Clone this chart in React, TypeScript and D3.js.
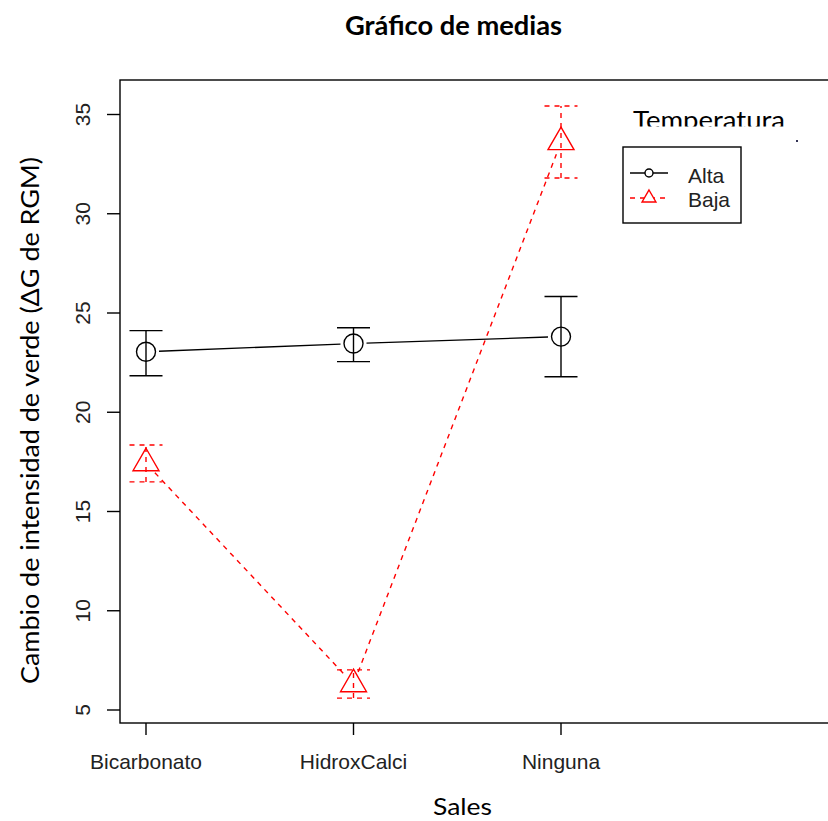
import React from "react";
import * as d3 from "d3";

const categories = ["Bicarbonato", "HidroxCalci", "Ninguna"];
const altaMean = [23.05, 23.46, 23.81];
const altaLow = [21.84, 22.55, 21.79];
const altaHigh = [24.11, 24.26, 25.83];
const bajaMean = [17.43, 6.3, 33.61];
const bajaLow = [16.49, 5.6, 31.8];
const bajaHigh = [18.35, 7.02, 35.43];
const yTicks = [5, 10, 15, 20, 25, 30, 35];
const seriesNames = ["Alta", "Baja"];

const W = 828;
const H = 821;
const box = { left: 120, top: 80, right: 832, bottom: 723 };
const x = d3.scaleLinear().domain([1, 3]).range([146, 561]);
const y = d3.scaleLinear().domain([5, 35]).range([710, 114.5]);

const RFONT = "'Liberation Sans', Arial, sans-serif";
const CFONT = "Lato, 'Open Sans', sans-serif";

function triPath(r: number) {
  const xc = r * 0.866;
  return `M0,${-r}L${xc},${r / 2}L${-xc},${r / 2}Z`;
}

function gappedSegments(pts: [number, number][], gap: number) {
  const segs: [number, number, number, number][] = [];
  for (let i = 0; i < pts.length - 1; i++) {
    const [x0, y0] = pts[i];
    const [x1, y1] = pts[i + 1];
    const d = Math.hypot(x1 - x0, y1 - y0);
    const ux = (x1 - x0) / d;
    const uy = (y1 - y0) / d;
    segs.push([x0 + ux * gap, y0 + uy * gap, x1 - ux * gap, y1 - uy * gap]);
  }
  return segs;
}

function Series({ mean, low, high, color, dash, marker }: any) {
  const pts: [number, number][] = mean.map((m: number, i: number) => [x(i + 1), y(m)]);
  const segs = gappedSegments(pts, 13);
  const cap = 16.5;
  return (
    <g stroke={color} fill="none" strokeWidth={1.4} strokeDasharray={dash}>
      {segs.map((s, i) => (
        <line key={"s" + i} x1={s[0]} y1={s[1]} x2={s[2]} y2={s[3]} />
      ))}
      {mean.map((m: number, i: number) => {
        const cx = x(i + 1);
        return (
          <g key={"e" + i}>
            <line x1={cx} x2={cx} y1={y(low[i])} y2={y(high[i])} />
            <line x1={cx - cap} x2={cx + cap} y1={y(low[i])} y2={y(low[i])} />
            <line x1={cx - cap} x2={cx + cap} y1={y(high[i])} y2={y(high[i])} />
            {marker === "circle" ? (
              <circle cx={cx} cy={y(m)} r={9.5} strokeDasharray="none" />
            ) : (
              <path d={triPath(15)} transform={`translate(${cx},${y(m)})`} strokeDasharray="none" />
            )}
          </g>
        );
      })}
    </g>
  );
}

export default function App() {
  return (
    <svg
      width={W}
      height={H}
      style={{ position: "absolute", left: 0, top: 0, background: "#fff" }}
      xmlns="http://www.w3.org/2000/svg"
    >
      <defs>
        <clipPath id="tclip">
          <rect x={600} y={90} width={228} height={36.5} />
        </clipPath>
      </defs>
      <rect x={0} y={0} width={W} height={H} fill="#fff" />
      {/* Title */}
      <text
        x={453.5}
        y={35}
        textAnchor="middle"
        fontFamily={CFONT}
        fontWeight={700}
        fontSize={26}
        textLength={217}
        lengthAdjust="spacingAndGlyphs"
        fill="#000"
      >
        Gráfico de medias
      </text>
      {/* Plot box */}
      <rect
        x={box.left}
        y={box.top}
        width={box.right - box.left}
        height={box.bottom - box.top}
        fill="none"
        stroke="#000"
        strokeWidth={1.4}
      />
      {/* Y axis */}
      <g>
        {yTicks.map((t) => (
          <g key={t}>
            <line x1={107} x2={box.left} y1={y(t)} y2={y(t)} stroke="#000" strokeWidth={1.4} />
            <text
              transform={`translate(90,${y(t)}) rotate(-90)`}
              textAnchor="middle"
              fontFamily={RFONT}
              fontSize={21}
              fill="#222"
            >
              {t}
            </text>
          </g>
        ))}
      </g>
      {/* X axis */}
      <g>
        {categories.map((c, i) => (
          <g key={c}>
            <line x1={x(i + 1)} x2={x(i + 1)} y1={box.bottom} y2={735} stroke="#000" strokeWidth={1.4} />
            <text x={x(i + 1)} y={769} textAnchor="middle" fontFamily={RFONT} fontSize={21} fill="#222">
              {c}
            </text>
          </g>
        ))}
      </g>
      {/* Axis titles */}
      <text
        x={462.5}
        y={815}
        textAnchor="middle"
        fontFamily={CFONT}
        fontSize={24}
        textLength={59}
        lengthAdjust="spacingAndGlyphs"
        fill="#000"
      >
        Sales
      </text>
      <text
        transform="translate(39,420.5) rotate(-90)"
        textAnchor="middle"
        fontFamily={CFONT}
        fontSize={25}
        textLength={527}
        lengthAdjust="spacingAndGlyphs"
        fill="#000"
      >
        Cambio de intensidad de verde (ΔG de RGM)
      </text>
      {/* Series */}
      <Series mean={altaMean} low={altaLow} high={altaHigh} color="#000" dash="none" marker="circle" />
      <Series mean={bajaMean} low={bajaLow} high={bajaHigh} color="#ff0000" dash="5,5" marker="triangle" />
      {/* Legend */}
      <g clipPath="url(#tclip)">
        <text
          x={633}
          y={129}
          fontFamily={CFONT}
          fontSize={25}
          textLength={152}
          lengthAdjust="spacingAndGlyphs"
          fill="#000"
        >
          Temperatura
        </text>
      </g>
      <rect x={796} y={140} width={2} height={2} fill="#335" />
      <rect x={623} y={147} width={118} height={76} fill="#fff" stroke="#000" strokeWidth={1.4} />
      <g>
        <line x1={630} x2={668} y1={173} y2={173} stroke="#000" strokeWidth={1.4} />
        <circle cx={649} cy={173} r={4} fill="#fff" stroke="#000" strokeWidth={1.4} />
        <text x={688} y={183} fontFamily={RFONT} fontSize={21} fill="#222">
          {seriesNames[0]}
        </text>
        <line x1={630} x2={668} y1={198} y2={198} stroke="#ff0000" strokeWidth={1.4} strokeDasharray="5,5" />
        <path d={triPath(8)} transform="translate(649,198)" fill="#fff" stroke="#ff0000" strokeWidth={1.4} />
        <text x={688} y={207} fontFamily={RFONT} fontSize={21} fill="#222">
          {seriesNames[1]}
        </text>
      </g>
    </svg>
  );
}
